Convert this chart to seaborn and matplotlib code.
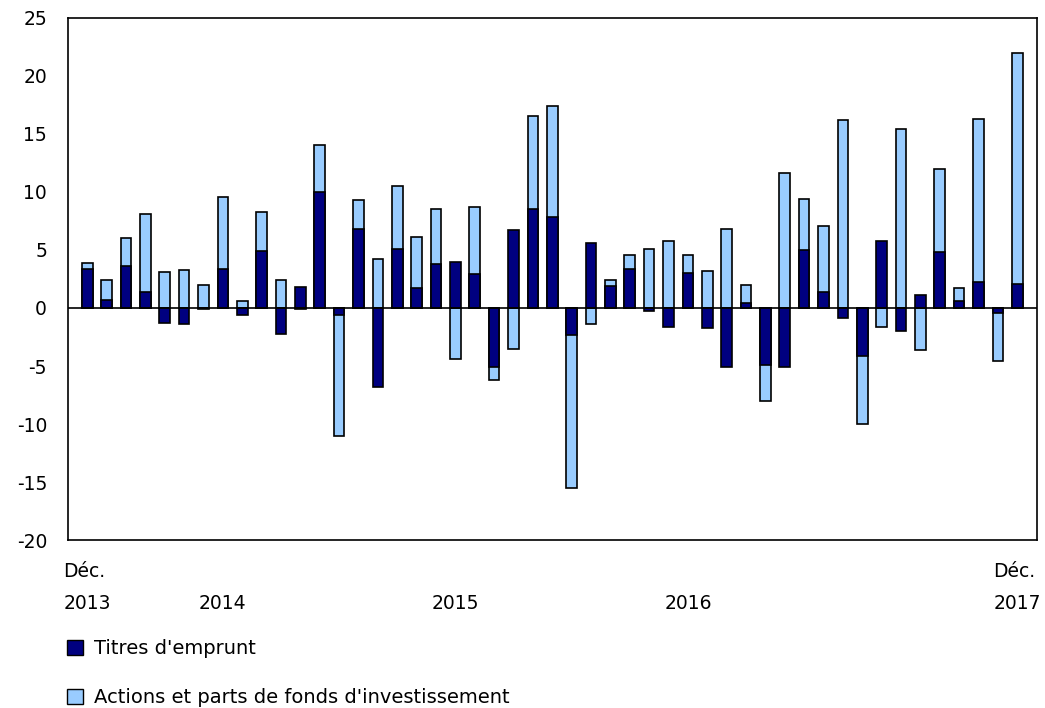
import numpy as np
import pandas as pd
import matplotlib
matplotlib.use("Agg")
import matplotlib.pyplot as plt
from matplotlib.patches import Patch
import seaborn as sns

# Monthly values, Dec 2013 .. Dec 2017 (billions of dollars)
months = pd.date_range("2013-12-01", periods=49, freq="MS").strftime("%Y-%m").tolist()
titres = [3.4, 0.7, 3.6, 1.4, -1.3, -1.4, -0.1, 3.4, -0.6, 4.9, -2.2, 1.8,
          10.0, -0.6, 6.8, -6.8, 5.1, 1.7, 3.8, 4.0, 2.9, -5.1, 6.7, 8.5,
          7.8, -2.3, 5.6, 1.9, 3.4, -0.3, -1.6, 3.0, -1.7, -5.1, 0.4, -4.9,
          -5.1, 5.0, 1.4, -0.9, -4.1, 5.8, -2.0, 1.1, 4.8, 0.6, 2.2, -0.4, 2.1]
actions = [0.5, 1.7, 2.4, 6.7, 3.1, 3.3, 2.0, 6.2, 0.6, 3.4, 2.4, -0.1,
           4.0, -10.4, 2.5, 4.2, 5.4, 4.4, 4.7, -4.4, 5.8, -1.1, -3.5, 8.0,
           9.6, -13.2, -1.4, 0.5, 1.2, 5.1, 5.8, 1.6, 3.2, 6.8, 1.6, -3.1,
           11.6, 4.4, 5.7, 16.2, -5.9, -1.6, 15.4, -3.6, 7.2, 1.1, 14.1, -4.2, 19.9]

tick_pos = [0, 7, 19, 31, 48]
tick_labels = ["Déc.\n2013", "\n2014", "\n2015", "\n2016", "Déc.\n2017"]

series_names = ["Titres d'emprunt", "Actions et parts de fonds d'investissement"]
dark = "#000080"
light = "#99CCFF"

sns.set_style("white")
plt.rcParams["font.family"] = ["DejaVu Sans"]
plt.rcParams["axes.unicode_minus"] = False
plt.rcParams["text.color"] = "black"
plt.rcParams["xtick.color"] = "black"
plt.rcParams["ytick.color"] = "black"

t = np.array(titres)
a = np.array(actions)
# light segment is stacked on the dark one when both have the same sign
same_sign = np.sign(t) == np.sign(a)
light_top = np.where(same_sign, t + a, a)

df = pd.DataFrame({"month": months, "titres": t, "light_top": light_top})

fig = plt.figure(figsize=(10.45, 7.08), dpi=100)
ax = fig.add_axes([0.065, 0.237, 0.927, 0.738])

sns.barplot(data=df, x="month", y="light_top", color=light, saturation=1,
            edgecolor="black", linewidth=1.2, width=0.55, ax=ax, zorder=2)
sns.barplot(data=df, x="month", y="titres", color=dark, saturation=1,
            edgecolor="black", linewidth=1.2, width=0.55, ax=ax, zorder=3)

ax.axhline(0, color="black", linewidth=1.2, zorder=4)
ax.set_xlim(-1, 49)
ax.set_ylim(-20, 25)
ax.set_yticks(range(-20, 30, 5))
ax.set_xticks(tick_pos)
ax.set_xticklabels(tick_labels, fontsize=13.5, linespacing=1.85, multialignment="left")
ax.tick_params(axis="y", direction="in", length=7, width=1.2, labelsize=13.5, pad=15)
ax.tick_params(axis="x", length=0, pad=16)
ax.set_xlabel("")
ax.set_ylabel("")
for sp in ax.spines.values():
    sp.set_visible(True)
    sp.set_color("black")
    sp.set_linewidth(1.2)

handles = [Patch(facecolor=dark, edgecolor="black", linewidth=1),
           Patch(facecolor=light, edgecolor="black", linewidth=1)]
fig.legend(handles, series_names, loc="upper left",
           bbox_to_anchor=(0.064, 1 - 639 / 708), frameon=False, fontsize=14,
           handlelength=0.85, handleheight=0.85, handletextpad=0.55,
           labelspacing=1.55, borderaxespad=0, borderpad=0)

fig.savefig("out.png", dpi=100)
